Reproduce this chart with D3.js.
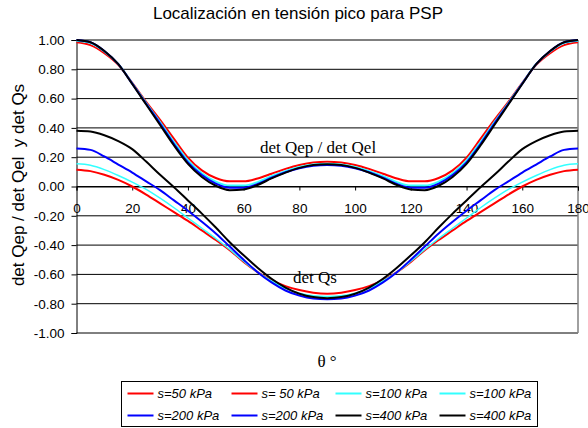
<!DOCTYPE html>
<html>
<head>
<meta charset="utf-8">
<script src="https://cdn.jsdelivr.net/npm/d3@7"></script>
<style>
  body { margin: 0; background: #fff; }
  text { font-family: "Liberation Sans", Arial, sans-serif; }
  .serif { font-family: "Liberation Serif", "Times New Roman", serif; }
</style>
</head>
<body>
<div id="chart"></div>
<script>
// Angles (degrees)
var theta = [0,5,10,15,20,25,30,35,40,45,50,55,60,65,70,75,80,85,90,
  95,100,105,110,115,120,125,130,135,140,145,150,155,160,165,170,175,180];

// det Qep / det Qel (upper curves)
var qep50 = [0.985,0.965,0.91,0.83,0.708,0.578,0.455,0.325,0.197,0.11,0.058,0.035,0.035,0.055,0.087,0.12,0.147,0.164,0.169,
  0.164,0.147,0.12,0.087,0.055,0.035,0.035,0.058,0.11,0.197,0.325,0.455,0.578,0.708,0.83,0.91,0.965,0.985];
var qep100 = [0.995,0.98,0.922,0.835,0.705,0.57,0.44,0.303,0.178,0.09,0.033,0.006,0.006,0.03,0.07,0.105,0.133,0.15,0.155,
  0.15,0.133,0.105,0.07,0.03,0.006,0.006,0.033,0.09,0.178,0.303,0.44,0.57,0.705,0.835,0.922,0.98,0.995];
var qep200 = [1.0,0.985,0.925,0.835,0.702,0.565,0.43,0.29,0.165,0.078,0.02,-0.008,-0.008,0.018,0.06,0.097,0.125,0.142,0.147,
  0.142,0.125,0.097,0.06,0.018,-0.008,-0.008,0.02,0.078,0.165,0.29,0.43,0.565,0.702,0.835,0.925,0.985,1.0];
var qep400 = [1.0,0.985,0.925,0.835,0.7,0.56,0.42,0.28,0.155,0.065,0.005,-0.025,-0.02,0.01,0.055,0.095,0.127,0.146,0.152,
  0.146,0.127,0.095,0.055,0.01,-0.02,-0.025,0.005,0.065,0.155,0.28,0.42,0.56,0.7,0.835,0.925,0.985,1.0];

// det Qs (lower curves)
var qs50 = [0.115,0.105,0.08,0.045,0.0,-0.055,-0.115,-0.175,-0.235,-0.3,-0.365,-0.435,-0.515,-0.585,-0.64,-0.68,-0.707,-0.725,-0.732,
  -0.725,-0.707,-0.68,-0.64,-0.585,-0.515,-0.435,-0.365,-0.3,-0.235,-0.175,-0.115,-0.055,0.0,0.045,0.08,0.105,0.115];
var qs100 = [0.155,0.145,0.115,0.075,0.03,-0.02,-0.08,-0.145,-0.215,-0.285,-0.355,-0.43,-0.51,-0.585,-0.645,-0.695,-0.728,-0.745,-0.75,
  -0.745,-0.728,-0.695,-0.645,-0.585,-0.51,-0.43,-0.355,-0.285,-0.215,-0.145,-0.08,-0.02,0.03,0.075,0.115,0.145,0.155];
var qs200 = [0.26,0.25,0.205,0.15,0.095,0.035,-0.025,-0.095,-0.165,-0.24,-0.32,-0.41,-0.5,-0.585,-0.655,-0.71,-0.745,-0.765,-0.77,
  -0.765,-0.745,-0.71,-0.655,-0.585,-0.5,-0.41,-0.32,-0.24,-0.165,-0.095,-0.025,0.035,0.095,0.15,0.205,0.25,0.26];
var qs400 = [0.38,0.375,0.35,0.31,0.255,0.17,0.08,-0.005,-0.095,-0.185,-0.28,-0.38,-0.47,-0.555,-0.63,-0.69,-0.732,-0.755,-0.762,
  -0.755,-0.732,-0.69,-0.63,-0.555,-0.47,-0.38,-0.28,-0.185,-0.095,-0.005,0.08,0.17,0.255,0.31,0.35,0.375,0.38];

var legendLabels = ["s=50 kPa","s= 50 kPa","s=100 kPa","s=100 kPa","s=200 kPa","s=200 kPa","s=400 kPa","s=400 kPa"];
var seriesColors = ["#ff0000","#ff0000","#33ffff","#33ffff","#0000ff","#0000ff","#000000","#000000"];
var seriesValues = [qep50, qs50, qep100, qs100, qep200, qs200, qep400, qs400];

var xTicks = [0,20,40,60,80,100,120,140,160,180];
var yTicks = [-1,-0.8,-0.6,-0.4,-0.2,0,0.2,0.4,0.6,0.8,1];

// Dimensions
var margins = {top:40, bottom:95, left:76.5, right:10}
var width = 588 - margins.left - margins.right;
var height = 428 - margins.top - margins.bottom;

var svg = d3.select("#chart").append("svg")
  .attr("width", 588)
  .attr("height", 428)

var g = svg.append("g")
  .attr("transform", "translate(" + margins.left + "," + margins.top + ")")

var x = d3.scaleLinear().domain([0, 180]).range([0, width]),
    y = d3.scaleLinear().domain([-1, 1]).range([height, 0])

// Title
svg.append("text")
  .attr("x", 298).attr("y", 19)
  .attr("text-anchor", "middle")
  .style("font-size", "17px")
  .text("Localización en tensión pico para PSP")

// Gridlines
g.selectAll(".grid").data(yTicks).enter().append("line")
  .attr("class", "grid")
  .attr("x1", 0).attr("x2", width)
  .attr("y1", function(d){ return y(d) }).attr("y2", function(d){ return y(d) })
  .attr("stroke", "#000").attr("stroke-width", 1)

// Right border
g.append("line")
  .attr("x1", width).attr("x2", width).attr("y1", 0).attr("y2", height)
  .attr("stroke", "#808080").attr("stroke-width", 1.5)

// Y axis
var yAxis = d3.axisLeft(y).tickValues(yTicks).tickSize(5).tickPadding(7)
  .tickFormat(d3.format(".2f"))
var gy = g.append("g").call(yAxis)
gy.selectAll("text").style("font-size", "13.5px").attr("fill", "#000")
  .text(function(d){ return d3.format(".2f")(d).replace("−", "-") })
gy.selectAll("line, path").attr("stroke", "#000")

// X axis at y = 0
var xAxis = d3.axisBottom(x).tickValues(xTicks).tickSize(4).tickPadding(13)
var gx = g.append("g").attr("transform", "translate(0," + y(0) + ")").call(xAxis)
gx.selectAll("text").style("font-size", "13.5px").attr("fill", "#000")
gx.selectAll("line, path").attr("stroke", "#000")

// Lines
var line = d3.line()
  .x(function(d, i){ return x(theta[i]) })
  .y(function(d){ return y(d) })
  .curve(d3.curveMonotoneX)

g.selectAll(".series").data(seriesValues).enter().append("path")
  .attr("class", "series")
  .attr("d", line)
  .attr("fill", "none")
  .attr("stroke", function(d, i){ return seriesColors[i] })
  .attr("stroke-width", function(d, i){ return i == 3 ? 1.5 : 2 })

// Annotations
svg.append("text").attr("class", "serif")
  .attr("x", 260).attr("y", 153)
  .style("font-size", "17px")
  .text("det Qep / det Qel")

svg.append("text").attr("class", "serif")
  .attr("x", 293).attr("y", 283)
  .style("font-size", "17px")
  .text("det Qs")

// Axis titles
svg.append("text").attr("class", "serif")
  .attr("x", 327).attr("y", 367)
  .attr("text-anchor", "middle")
  .style("font-size", "17px")
  .text("θ °")

svg.append("text")
  .attr("transform", "translate(24,185) rotate(-90)")
  .attr("text-anchor", "middle")
  .style("font-size", "17px")
  .style("white-space", "pre")
  .text("det Qep / det Qel  y det Qs")

// Legend
var legend = svg.append("g").attr("transform", "translate(121.5,381.5)")
legend.append("rect")
  .attr("width", 416).attr("height", 45)
  .attr("fill", "#fff").attr("stroke", "#000").attr("stroke-width", 1)

var items = legend.selectAll(".item").data(legendLabels).enter().append("g")
  .attr("class", "item")
  .attr("transform", function(d, i){ return "translate(" + (6 + (i % 4) * 104) + "," + (12 + Math.floor(i / 4) * 22) + ")" })

items.append("line")
  .attr("x1", 0).attr("x2", 26)
  .attr("stroke", function(d, i){ return seriesColors[i] })
  .attr("stroke-width", 2)

items.append("text")
  .attr("x", 30).attr("y", 4.5)
  .style("font-size", "13px").style("font-style", "italic")
  .text(function(d){ return d })
</script>
</body>
</html>
